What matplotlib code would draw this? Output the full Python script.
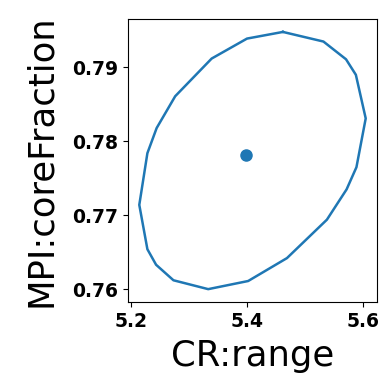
import numpy as np
import matplotlib
matplotlib.use("Agg")
import matplotlib.pyplot as plt

# confidence contour around the best-fit point
cr_range = [5.462, 5.532, 5.571, 5.588, 5.605, 5.589, 5.572, 5.538, 5.469, 5.402,
            5.333, 5.273, 5.243, 5.228, 5.214, 5.228, 5.244, 5.276, 5.339, 5.400, 5.462]
core_fraction = [0.7948, 0.7935, 0.7911, 0.7890, 0.7831, 0.7765, 0.7735, 0.7694, 0.7642, 0.7611,
                 0.7600, 0.7612, 0.7633, 0.7654, 0.7714, 0.7784, 0.7818, 0.7861, 0.7912, 0.7939, 0.7948]
best_x = [5.398]
best_y = [0.7782]

fig = plt.figure(figsize=(3.82, 3.74), dpi=100)
ax = fig.add_axes([0.335, 0.1925, 0.652, 0.7565])

ax.plot(cr_range, core_fraction, color="#1f77b4", lw=1.8)
ax.plot(best_x, best_y, "o", color="#1f77b4", markersize=8)

ax.set_xticks([5.2, 5.4, 5.6])
ax.set_yticks([0.76, 0.77, 0.78, 0.79])
for lab in ax.get_xticklabels() + ax.get_yticklabels():
	lab.set_fontweight("bold")
	lab.set_fontsize(13.5)

ax.set_xlabel("CR:range", fontsize=25.5, labelpad=6)
ax.set_ylabel("MPI:coreFraction", fontsize=25.5, labelpad=10)

fig.savefig("out.png", dpi=100)
